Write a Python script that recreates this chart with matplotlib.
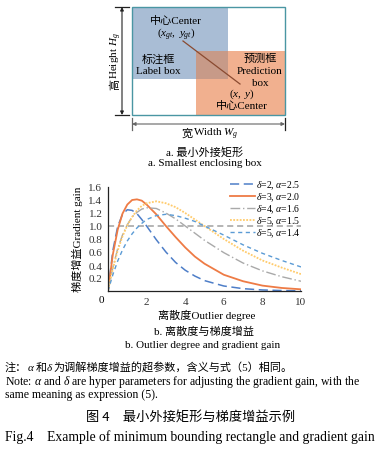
import numpy as np
import matplotlib
matplotlib.use("Agg")
import matplotlib.pyplot as plt
from matplotlib.patches import Rectangle

plt.rcParams['mathtext.fontset'] = 'custom'
plt.rcParams['mathtext.rm'] = 'Liberation Serif'
plt.rcParams['mathtext.it'] = 'Liberation Serif:italic'
plt.rcParams['mathtext.bf'] = 'Liberation Serif:bold'

SERIF = ['Liberation Serif', 'Noto Sans CJK SC']
LAT = 'Liberation Serif'

# gradient gain curves
outlier = [0, 0.25, 0.5, 0.75, 1, 1.25, 1.5, 1.75, 2, 2.5, 3, 3.5, 4, 4.5, 5, 6, 7, 8, 9, 10]
gain_d2_a25 = [0, 0.62, 0.99, 1.18, 1.25, 1.24, 1.19, 1.10, 1.00, 0.79, 0.60, 0.44, 0.32, 0.23, 0.16, 0.077, 0.036, 0.016, 0.007, 0.003]
gain_d3_a20 = [0, 0.56, 0.94, 1.19, 1.33, 1.40, 1.41, 1.39, 1.33, 1.18, 1.00, 0.83, 0.67, 0.53, 0.42, 0.25, 0.15, 0.083, 0.047, 0.026]
gain_d4_a16 = [0, 0.36, 0.65, 0.86, 1.02, 1.14, 1.21, 1.26, 1.28, 1.27, 1.20, 1.11, 1.00, 0.89, 0.78, 0.59, 0.43, 0.31, 0.22, 0.15]
gain_d5_a15 = [0, 0.34, 0.62, 0.84, 1.01, 1.14, 1.24, 1.31, 1.35, 1.38, 1.35, 1.29, 1.20, 1.10, 1.00, 0.80, 0.62, 0.47, 0.36, 0.26]
gain_d5_a14 = [0, 0.25, 0.46, 0.63, 0.77, 0.88, 0.97, 1.04, 1.10, 1.16, 1.18, 1.16, 1.12, 1.07, 1.00, 0.86, 0.71, 0.58, 0.47, 0.37]
labels = [r'$\delta$=2, $\alpha$=2.5', r'$\delta$=3, $\alpha$=2.0', r'$\delta$=4, $\alpha$=1.6',
          r'$\delta$=5, $\alpha$=1.5', r'$\delta$=5, $\alpha$=1.4']
xticks = [2, 4, 6, 8, 10]
yticks = [0.2, 0.4, 0.6, 0.8, 1.0, 1.2, 1.4, 1.6]

# schematic boxes (pixel units of the figure)
outer_box = (132, 8, 285, 116)
label_box = (132, 8, 228, 80)
pred_box = (196, 52, 285, 116)

fig = plt.figure(figsize=(3.88, 4.52), dpi=100)
canvas = fig.add_axes([0, 0, 1, 1], zorder=0)
canvas.set_xlim(0, 388)
canvas.set_ylim(452, 0)
canvas.axis('off')
R = fig.canvas.get_renderer()


def box(b, **kw):
    canvas.add_patch(Rectangle((b[0], b[1]), b[2] - b[0], b[3] - b[1], **kw))


def txt(x, y, s, size=8, fam=SERIF, **kw):
    kw.setdefault('ha', 'center')
    kw.setdefault('va', 'center')
    return canvas.text(x, y, s, fontsize=size, family=fam, **kw)


def run_text(parts, x, y, size=8, rot=0):
    for s, fam in parts:
        t = canvas.text(x, y, s, fontsize=size, family=fam, ha='left', va='baseline',
                        rotation=rot, rotation_mode='anchor')
        bb = t.get_window_extent(R)
        if rot == 0:
            x += bb.width
        else:
            y -= bb.height


# ---- part a: smallest enclosing box
box(label_box, facecolor='#A9BDD5', edgecolor='none')
box(pred_box, facecolor='#F1B08F', edgecolor='none')
ov = (pred_box[0], pred_box[1], label_box[2], label_box[3])
box(ov, facecolor='#C79A88', edgecolor='none')
box(outer_box, facecolor='none', edgecolor='#4A96A3', lw=1.0)
canvas.plot([183, 240], [42, 85], color='#8A4A30', lw=0.9)

txt(176, 21, '中心Center')
txt(176, 34, r'$(x_{gt},\ y_{gt})$', fam=LAT)
txt(158, 60, '标注框')
txt(158, 72, 'Label box')
txt(260, 59, '预测框')
txt(260, 71, 'Prediction')
txt(260, 84, 'box')
txt(242, 94, r'$(x,\ y)$', fam=LAT)
txt(242, 106, '中心Center')

# dimension arrows
canvas.annotate('', xy=(122, 8), xytext=(122, 116),
                arrowprops=dict(arrowstyle='<|-|>', color='#222222', lw=0.8, mutation_scale=5,
                                shrinkA=0, shrinkB=0))
canvas.plot([115, 129], [8, 8], color='#222222', lw=0.9)
canvas.plot([115, 129], [116, 116], color='#222222', lw=0.9)
canvas.annotate('', xy=(132, 125), xytext=(285, 125),
                arrowprops=dict(arrowstyle='<|-|>', color='#666666', lw=0.8, mutation_scale=5,
                                shrinkA=0, shrinkB=0))
canvas.plot([132, 132], [119, 131], color='#666666', lw=0.9)
canvas.plot([285, 285], [119, 131], color='#222222', lw=0.9)

run_text([('高', SERIF), (r'Height $H_g$', LAT)], 118, 90, rot=90)
run_text([('宽', SERIF), (r'Width $W_g$', LAT)], 182, 137)
txt(205, 152, 'a. 最小外接矩形')
txt(205, 164, 'a. Smallest enclosing box')

# ---- part b: outlier degree and gradient gain
ax = fig.add_axes([108 / 388, 1 - 292 / 452, (301 - 108) / 388, (292 - 188) / 452], zorder=1)
ax.patch.set_alpha(0)
ax.plot(outlier, gain_d2_a25, color='#4E7EC8', lw=1.1, dashes=(6, 3), label=labels[0])
ax.plot(outlier, gain_d3_a20, color='#EE7B45', lw=1.3, label=labels[1])
ax.plot(outlier, gain_d4_a16, color='#A9A9A9', lw=1.0, dashes=(7, 2, 1, 2), label=labels[2])
ax.plot(outlier, gain_d5_a15, color='#FFCB6B', lw=1.3, dashes=(1, 0.8), label=labels[3])
ax.plot(outlier, gain_d5_a14, color='#5B9BD5', lw=1.0, dashes=(3, 2.5), label=labels[4])
ax.axhline(1.0, color='#A0A0A0', lw=1.1, dashes=(4, 2.5), zorder=0)

ax.set_xlim(0, 10)
ax.set_ylim(0, 1.6)
ax.set_xticks(xticks)
ax.set_yticks(yticks)
ax.set_yticklabels(['%.1f' % v for v in yticks], family=LAT, fontsize=8)
ax.set_xticklabels([str(v) for v in xticks], family=LAT, fontsize=8)
ax.tick_params(length=0, pad=4, colors='#333333')
for s in ['top', 'right']:
    ax.spines[s].set_visible(False)
for s in ['left', 'bottom']:
    ax.spines[s].set_color('#222222')
    ax.spines[s].set_linewidth(0.9)

leg = ax.legend(loc='upper right', bbox_to_anchor=(1.0, 1.08), frameon=False,
                prop={'family': LAT, 'size': 7}, labelspacing=-0.05,
                handlelength=2.6, handletextpad=0.1, borderpad=0, borderaxespad=0)

txt(101.5, 301, '0', fam=LAT)
txt(77, 239, '梯度增益Gradient gain', rotation=90)
txt(207, 315, '离散度Outlier degree')
txt(204, 332, 'b. 离散度与梯度增益')
txt(203, 346, 'b. Outlier degree and gradient gain')

# ---- notes and figure caption
run_text([('注：', SERIF), (r'$\alpha$', LAT), ('和', SERIF), (r'$\delta$', LAT),
          ('为调解梯度增益的超参数，含义与式（5）相同。', SERIF)], 5, 371)
txt(5, 385, r'Note: $\alpha$ and $\delta$ are hyper parameters for adjusting the gradient gain, with the',
    size=8.5, fam=LAT, ha='left', va='baseline')
txt(5, 398, 'same meaning as expression (5).', size=8.5, fam=LAT, ha='left', va='baseline')
txt(191, 418, '图 4　最小外接矩形与梯度增益示例', size=9.5, fam=['Noto Sans CJK SC'])
txt(190, 437, 'Fig.4　Example of minimum bounding rectangle and gradient gain', size=9.8)

plt.savefig('out.png', dpi=100)
